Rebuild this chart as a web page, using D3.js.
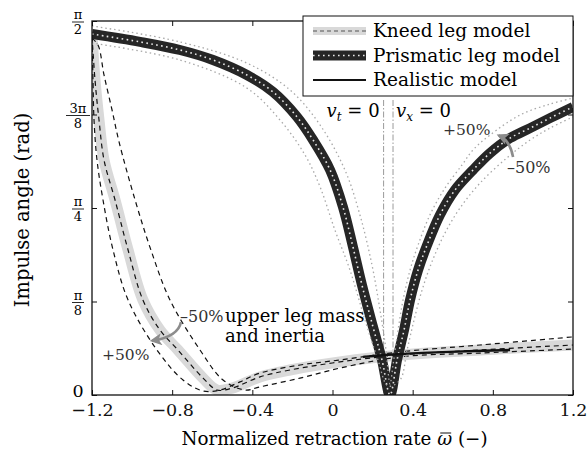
<!DOCTYPE html>
<html>
<head>
<meta charset="utf-8">
<script src="https://cdn.jsdelivr.net/npm/d3@7"></script>
<style>
  body { margin: 0; background: #fff; }
  svg text { font-family: "DejaVu Serif"; }
</style>
</head>
<body>
<div id="chart"></div>
<script>
// chart values (x = normalized retraction rate, y = impulse angle in rad)
var xTicks = [-1.2, -0.8, -0.4, 0, 0.4, 0.8, 1.2];
var yTicks = [0, Math.PI / 8, Math.PI / 4, 3 * Math.PI / 8, Math.PI / 2];
var yTickLabels = [["0"], ["π", "8"], ["π", "4"], ["3π", "8"], ["π", "2"]];
var legendNames = ["Kneed leg model", "Prismatic leg model", "Realistic model"];

// prismatic leg model, nominal
var prismatic = [[-1.2, 1.516], [-0.96, 1.483], [-0.761, 1.449], [-0.596, 1.407], [-0.427, 1.344],
  [-0.297, 1.273], [-0.177, 1.168], [-0.097, 1.071], [-0.012, 0.945], [0.052, 0.790], [0.102, 0.622],
  [0.147, 0.462], [0.202, 0.286], [0.247, 0.147], [0.287, 0.0], [0.322, 0.147], [0.357, 0.273],
  [0.387, 0.399], [0.427, 0.525], [0.472, 0.63], [0.536, 0.756], [0.611, 0.861], [0.701, 0.945],
  [0.786, 1.016], [0.886, 1.079], [0.986, 1.121], [1.085, 1.163], [1.2, 1.21]];
// prismatic +50% / -50%
var prismaticPlus = [[-1.2, 1.55], [-0.761, 1.483], [-0.427, 1.394], [-0.212, 1.281], [-0.062, 1.134],
  [0.062, 0.945], [0.137, 0.756], [0.197, 0.546], [0.237, 0.357], [0.267, 0.189], [0.287, 0.046],
  [0.302, 0.126], [0.327, 0.273], [0.352, 0.399], [0.387, 0.525], [0.427, 0.63], [0.486, 0.756],
  [0.561, 0.869], [0.646, 0.966], [0.701, 1.029], [0.786, 1.092], [0.936, 1.176], [1.085, 1.222],
  [1.2, 1.247]];
var prismaticMinus = [[-1.2, 1.478], [-0.761, 1.407], [-0.427, 1.289], [-0.262, 1.155], [-0.137, 1.008],
  [-0.062, 0.874], [0.012, 0.693], [0.087, 0.525], [0.162, 0.315], [0.227, 0.147], [0.277, 0.038],
  [0.337, 0.063], [0.372, 0.189], [0.407, 0.315], [0.447, 0.441], [0.496, 0.559], [0.561, 0.68],
  [0.636, 0.785], [0.736, 0.89], [0.876, 1.0], [0.986, 1.071], [1.085, 1.121], [1.2, 1.168]];

// kneed leg model, nominal and upper leg mass +50% / -50%
var kneed = [[-1.2, 1.508], [-1.185, 1.323], [-1.165, 1.155], [-1.14, 0.987], [-1.085, 0.819],
  [-1.02, 0.609], [-0.946, 0.399], [-0.861, 0.273], [-0.771, 0.189], [-0.646, 0.071], [-0.576, 0.021],
  [-0.501, 0.029], [-0.362, 0.076], [-0.212, 0.105], [0.037, 0.139], [0.337, 0.168], [0.736, 0.189],
  [1.2, 0.21]];
var kneedPlus = [[-1.2, 1.499], [-1.195, 1.323], [-1.19, 1.155], [-1.175, 0.987], [-1.145, 0.819],
  [-1.095, 0.609], [-1.02, 0.399], [-0.876, 0.189], [-0.746, 0.063], [-0.646, 0.017], [-0.561, 0.021],
  [-0.462, 0.055], [-0.362, 0.092], [-0.162, 0.126], [0.037, 0.147], [0.337, 0.181], [0.736, 0.21],
  [1.2, 0.244]];
var kneedMinus = [[-1.2, 1.499], [-1.17, 1.47], [-1.14, 1.344], [-1.1, 1.197], [-1.065, 1.063],
  [-0.985, 0.819], [-0.906, 0.609], [-0.811, 0.399], [-0.661, 0.189], [-0.546, 0.063], [-0.437, 0.021],
  [-0.362, 0.034], [-0.162, 0.071], [0.037, 0.113], [0.337, 0.16], [0.736, 0.176], [1.2, 0.193]];

// realistic model
var realistic = [[0.152, 0.16], [0.337, 0.172], [0.586, 0.181], [0.886, 0.189]];

// retraction rates where v_t = 0 and v_x = 0
var vtZero = 0.255;
var vxZero = 0.302;

//chart setup
var svgWidth = 588;
var svgHeight = 457;
var margin = { top: 21, right: 15, bottom: 62, left: 92 };
var width = svgWidth - margin.left - margin.right;
var height = svgHeight - margin.top - margin.bottom;
var serif = "DejaVu Serif";

var svg = d3.select("#chart").append("svg")
  .attr("width", svgWidth)
  .attr("height", svgHeight)
  .attr("font-family", serif);

var defs = svg.append("defs");
defs.append("clipPath").attr("id", "plotclip")
  .append("rect").attr("width", width).attr("height", height);
defs.append("marker")
  .attr("id", "greyhead")
  .attr("viewBox", "0 0 10 10")
  .attr("refX", 8).attr("refY", 5)
  .attr("markerUnits", "userSpaceOnUse")
  .attr("markerWidth", 15).attr("markerHeight", 12)
  .attr("orient", "auto")
  .append("path").attr("d", "M0,0 L10,5 L0,10 L2.5,5 Z").attr("fill", "#8c8c8c");

var chartGroup = svg.append("g")
  .attr("transform", `translate(${margin.left}, ${margin.top})`);

var xScale = d3.scaleLinear().domain([-1.2, 1.2]).range([0, width]);
var yScale = d3.scaleLinear().domain([0, Math.PI / 2]).range([height, 0]);

var line = d3.line()
  .x(d => xScale(d[0]))
  .y(d => yScale(d[1]))
  .curve(d3.curveCatmullRom.alpha(0.5));

var plot = chartGroup.append("g").attr("clip-path", "url(#plotclip)");

// vertical markers
[vtZero, vxZero].forEach(function(v) {
  plot.append("line")
    .attr("x1", xScale(v)).attr("x2", xScale(v))
    .attr("y1", 79).attr("y2", height)
    .attr("stroke", "#9a9a9a").attr("stroke-width", 1)
    .attr("stroke-dasharray", "6,2,1.5,2");
});

// kneed leg model
plot.append("path").attr("d", line(kneed))
  .attr("fill", "none").attr("stroke", "#d9d9d9").attr("stroke-width", 11);
[kneed, kneedPlus, kneedMinus].forEach(function(s) {
  plot.append("path").attr("d", line(s))
    .attr("fill", "none").attr("stroke", "#111").attr("stroke-width", 1.2)
    .attr("stroke-dasharray", "5,4");
});

// prismatic leg model
plot.append("path").attr("d", line(prismatic))
  .attr("fill", "none").attr("stroke", "#262626").attr("stroke-width", 10)
  .attr("stroke-linejoin", "miter").attr("stroke-miterlimit", 20);
plot.append("path").attr("d", line(prismatic))
  .attr("fill", "none").attr("stroke", "#e6e6e6").attr("stroke-width", 1.6)
  .attr("stroke-dasharray", "1.6,3.4");
[prismaticPlus, prismaticMinus].forEach(function(s) {
  plot.append("path").attr("d", line(s))
    .attr("fill", "none").attr("stroke", "#a8a8a8").attr("stroke-width", 1.3)
    .attr("stroke-dasharray", "1.5,3");
});

// realistic model
plot.append("path").attr("d", line(realistic))
  .attr("fill", "none").attr("stroke", "#111").attr("stroke-width", 2.4);

// frame and axes (ticks inward on all four sides)
var bottomAxis = d3.axisBottom(xScale).tickValues(xTicks)
  .tickSizeInner(-5).tickSizeOuter(0).tickPadding(9)
  .tickFormat(d => d === 0 ? "0" : d3.format(".1f")(d));
var topAxis = d3.axisTop(xScale).tickValues(xTicks).tickSizeInner(-5).tickSizeOuter(0).tickFormat("");
var leftAxis = d3.axisLeft(yScale).tickValues(yTicks).tickSizeInner(-5).tickSizeOuter(0).tickFormat("");
var rightAxis = d3.axisRight(yScale).tickValues(yTicks).tickSizeInner(-5).tickSizeOuter(0).tickFormat("");

var xAxis = chartGroup.append("g").attr("transform", `translate(0, ${height})`).call(bottomAxis);
chartGroup.append("g").call(topAxis);
chartGroup.append("g").call(leftAxis);
chartGroup.append("g").attr("transform", `translate(${width}, 0)`).call(rightAxis);
chartGroup.selectAll(".domain").remove();
chartGroup.selectAll(".tick line").attr("stroke", "#111").attr("stroke-width", 1);
xAxis.selectAll("text").attr("font-size", 17.5).attr("fill", "#111");

chartGroup.append("rect")
  .attr("width", width).attr("height", height)
  .attr("fill", "none").attr("stroke", "#111").attr("stroke-width", 1.3);

// y tick labels as fractions
yTicks.forEach(function(t, i) {
  var lab = yTickLabels[i];
  var cx = -14, cy = yScale(t);
  if (lab.length === 1) {
    chartGroup.append("text").attr("x", cx).attr("y", cy + 2)
      .attr("text-anchor", "middle").attr("font-size", 17.5).text(lab[0]);
  } else {
    var g = chartGroup.append("g").attr("transform", `translate(${cx}, ${cy + 1})`);
    g.append("text").attr("y", -3).attr("text-anchor", "middle")
      .attr("font-size", 13).text(lab[0]);
    g.append("text").attr("y", 12).attr("text-anchor", "middle")
      .attr("font-size", 13).text(lab[1]);
    var w = lab[0].length > 1 ? 24 : 12;
    g.append("line").attr("x1", -w / 2).attr("x2", w / 2)
      .attr("stroke", "#111").attr("stroke-width", 0.9);
  }
});

// axis titles
var xTitle = svg.append("text")
  .attr("x", margin.left + width / 2 + 2).attr("y", 445)
  .attr("text-anchor", "middle")
  .attr("font-size", 18.3);
xTitle.append("tspan").text("Normalized retraction rate ");
xTitle.append("tspan").attr("font-style", "italic").text("ω");
xTitle.append("tspan").text(" (−)");

svg.append("text")
  .attr("transform", "translate(29, 210) rotate(-90)")
  .attr("text-anchor", "middle")
  .attr("font-size", 19.5)
  .text("Impulse angle (rad)");

// v_t = 0 and v_x = 0 labels
function subLabel(xpos, anchor, sub) {
  var t = chartGroup.append("text")
    .attr("x", xpos).attr("y", 96).attr("text-anchor", anchor)
    .attr("font-size", 18);
  t.append("tspan").attr("font-style", "italic").text("v");
  t.append("tspan").attr("font-size", 12).attr("font-style", "italic").attr("dy", 4).text(sub);
  t.append("tspan").attr("dy", -4).text(" = 0");
}
subLabel(xScale(vtZero) - 4, "end", "t");
subLabel(xScale(vxZero) + 3, "start", "x");

// annotations with grey arrows
function arrow(p0, c, p1) {
  chartGroup.append("path")
    .attr("d", `M${xScale(p0[0])},${yScale(p0[1])} Q${xScale(c[0])},${yScale(c[1])} ${xScale(p1[0])},${yScale(p1[1])}`)
    .attr("fill", "none").attr("stroke", "#8c8c8c").attr("stroke-width", 2.6)
    .attr("marker-end", "url(#greyhead)");
}
arrow([-0.756, 0.307], [-0.77, 0.245], [-0.9, 0.228]);
arrow([0.901, 1.0], [0.885, 1.07], [0.83, 1.09]);

chartGroup.append("text").attr("x", 88).attr("y", 301)
  .attr("font-size", 16).attr("fill", "#333").text("–50%");
chartGroup.append("text").attr("x", 10).attr("y", 339)
  .attr("font-size", 15.5).attr("fill", "#333").text("+50%");
chartGroup.append("text").attr("x", 133).attr("y", 301)
  .attr("font-size", 18).text("upper leg mass");
chartGroup.append("text").attr("x", 133).attr("y", 321)
  .attr("font-size", 18).text("and inertia");
chartGroup.append("text").attr("x", 351).attr("y", 114)
  .attr("font-size", 15.5).attr("fill", "#333").text("+50%");
chartGroup.append("text").attr("x", 415).attr("y", 152)
  .attr("font-size", 16).attr("fill", "#333").text("–50%");

// legend
var legend = svg.append("g").attr("transform", "translate(303, 16)");
legend.append("rect").attr("width", 270).attr("height", 80)
  .attr("fill", "#fff").attr("stroke", "#111").attr("stroke-width", 1);
legendNames.forEach(function(name, i) {
  var ly = 15 + i * 24.5;
  if (i === 0) {
    legend.append("line").attr("x1", 10).attr("x2", 63).attr("y1", ly).attr("y2", ly)
      .attr("stroke", "#d9d9d9").attr("stroke-width", 8);
    legend.append("line").attr("x1", 10).attr("x2", 63).attr("y1", ly).attr("y2", ly)
      .attr("stroke", "#555").attr("stroke-width", 1.2).attr("stroke-dasharray", "4,3");
  } else if (i === 1) {
    legend.append("line").attr("x1", 10).attr("x2", 63).attr("y1", ly).attr("y2", ly)
      .attr("stroke", "#262626").attr("stroke-width", 10);
    legend.append("line").attr("x1", 10).attr("x2", 63).attr("y1", ly).attr("y2", ly)
      .attr("stroke", "#e6e6e6").attr("stroke-width", 1.6).attr("stroke-dasharray", "1.6,3.4");
  } else {
    legend.append("line").attr("x1", 10).attr("x2", 63).attr("y1", ly).attr("y2", ly)
      .attr("stroke", "#111").attr("stroke-width", 2);
  }
  legend.append("text").attr("x", 70).attr("y", ly + 6)
    .attr("font-size", 18.5).text(name);
});

// make sure every text uses the serif face
svg.selectAll("text").attr("font-family", serif);

// bar over omega in the x title
var omegaIndex = "Normalized retraction rate ".length;
var ext = xTitle.node().getExtentOfChar(omegaIndex);
svg.append("line")
  .attr("x1", ext.x + 3).attr("x2", ext.x + ext.width - 1)
  .attr("y1", ext.y + 5).attr("y2", ext.y + 5)
  .attr("stroke", "#111").attr("stroke-width", 1);
</script>
</body>
</html>
